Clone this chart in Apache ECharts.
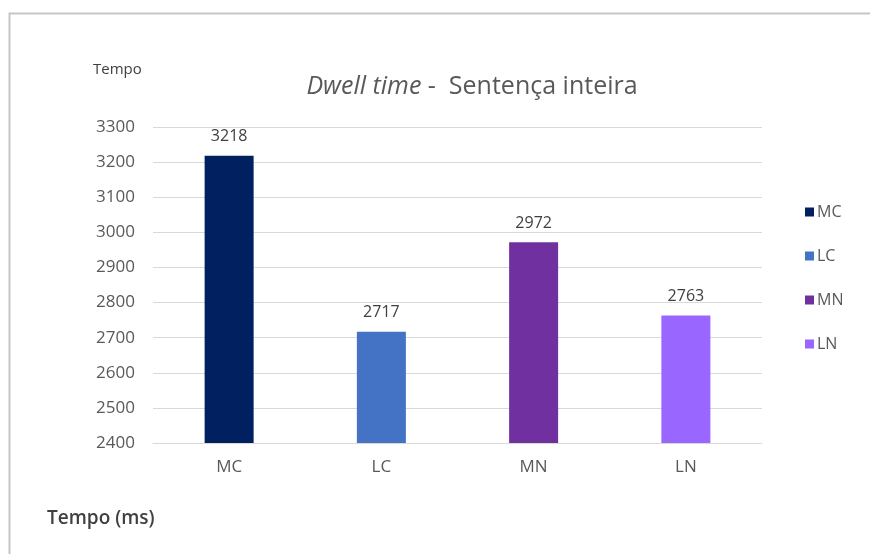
<!DOCTYPE html>
<html>
<head>
<meta charset="utf-8">
<script src="https://cdn.jsdelivr.net/npm/echarts@6/dist/echarts.min.js"></script>
<style>
  html, body { margin: 0; padding: 0; background: #fff; }
  #chart { width: 870px; height: 554px; }
</style>
</head>
<body>
<div id="chart"></div>
<script>
// Dwell time per condition (ms), whole sentence
const categories = ['MC', 'LC', 'MN', 'LN'];
const dwellValues = [3218, 2717, 2972, 2763];
const barColors = ['#002060', '#4472C4', '#7030A0', '#9966FF'];
const yTicks = { min: 2400, max: 3300, interval: 100 };

const FONT = '"Open Sans", sans-serif';

// one series per condition so each gets its own legend entry
const series = categories.map((name, i) => ({
  name: name,
  type: 'bar',
  barWidth: 49,
  barGap: '-100%',
  itemStyle: { color: barColors[i] },
  label: {
    show: true,
    position: 'top',
    distance: 11,
    color: '#404040',
    fontFamily: FONT,
    fontSize: 16
  },
  data: categories.map((c, j) => (j === i ? dwellValues[i] : '-'))
}));

const chart = echarts.init(document.getElementById('chart'), null, { renderer: 'canvas' });
chart.setOption({
  backgroundColor: '#ffffff',
  animation: false,
  textStyle: { fontFamily: FONT },
  title: {
    text: '{i|Dwell time}{n| -  Sentença inteira}',
    left: 467,
    textAlign: 'center',
    top: 69,
    textStyle: {
      rich: {
        i: { fontFamily: FONT, fontStyle: 'italic', fontWeight: 'normal', fontSize: 25, color: '#595959' },
        n: { fontFamily: FONT, fontWeight: 'normal', fontSize: 25, color: '#595959' }
      }
    }
  },
  legend: {
    orient: 'vertical',
    left: 800,
    top: 199,
    itemWidth: 9,
    itemHeight: 9,
    itemGap: 28,
    icon: 'rect',
    textStyle: { color: '#595959', fontSize: 16, fontFamily: FONT, padding: [0, 0, 0, -2] },
    data: categories
  },
  grid: { left: 153, right: 108, top: 127, bottom: 111, containLabel: false },
  xAxis: {
    type: 'category',
    data: categories,
    axisTick: { show: false },
    axisLine: { lineStyle: { color: '#d9d9d9' } },
    axisLabel: { color: '#595959', fontSize: 17, margin: 16 }
  },
  yAxis: {
    type: 'value',
    min: yTicks.min,
    max: yTicks.max,
    interval: yTicks.interval,
    axisLine: { show: false },
    axisTick: { show: false },
    splitLine: { lineStyle: { color: '#d9d9d9' } },
    axisLabel: { color: '#595959', fontSize: 17, margin: 18, formatter: (v) => String(v) }
  },
  graphic: [
    {
      type: 'polyline',
      shape: { points: [[9.5, 554], [9.5, 13.5], [870, 13.5]] },
      style: { stroke: '#c6c6c6', lineWidth: 2, fill: null }
    },
    {
      type: 'text',
      left: 93,
      top: 62,
      style: { text: 'Tempo', fill: '#404040', font: '15px ' + FONT }
    },
    {
      type: 'text',
      left: 47,
      top: 509,
      style: { text: 'Tempo (ms)', fill: '#404040', font: '600 19px ' + FONT }
    }
  ],
  series: series
});
</script>
</body>
</html>
